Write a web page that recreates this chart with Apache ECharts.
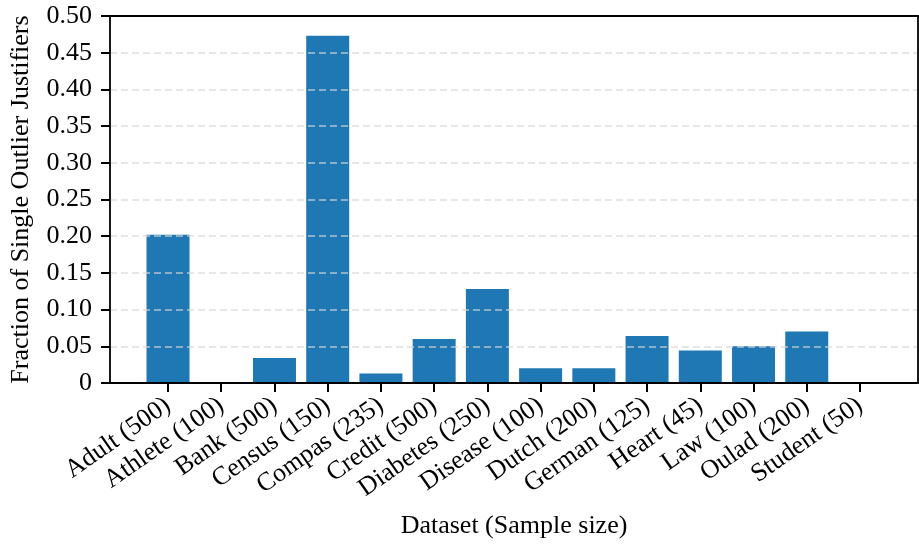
<!DOCTYPE html>
<html>
<head>
<meta charset="utf-8">
<script src="https://cdn.jsdelivr.net/npm/echarts@6/dist/echarts.min.js"></script>
<style>
  html, body { margin: 0; padding: 0; background: #fff; }
  #chart { width: 919px; height: 546px; }
</style>
</head>
<body>
<div id="chart"></div>
<script>
// Datasets with their sample sizes, and the share of single-outlier justifiers
const datasets = ['Adult', 'Athlete', 'Bank', 'Census', 'Compas', 'Credit', 'Diabetes',
                  'Disease', 'Dutch', 'German', 'Heart', 'Law', 'Oulad', 'Student'];
const sampleSizes = [500, 100, 500, 150, 235, 500, 250, 100, 200, 125, 45, 100, 200, 50];
const fractions = [0.202, 0, 0.034, 0.473, 0.0128, 0.060, 0.128, 0.020, 0.020, 0.064,
                   0.0444, 0.050, 0.070, 0];
const yTicks = [0, 0.05, 0.10, 0.15, 0.20, 0.25, 0.30, 0.35, 0.40, 0.45, 0.50];

const categoryLabels = datasets.map((d, i) => `${d} (${sampleSizes[i]})`);
const positions = datasets.map((_, i) => i);

// Bars occupy 0.8 of each slot; 5% padding on each side of the data span
const n = datasets.length;
const half = 0.4;
const span = (n - 1) + 2 * half;
const xMin = -half - 0.05 * span;
const xMax = (n - 1) + half + 0.05 * span;

const FONT = "'Liberation Serif', 'DejaVu Serif', serif";
const FS = 26;
const FRAME = { show: true, onZero: false, lineStyle: { color: '#000', width: 1.8 } };

const chart = echarts.init(document.getElementById('chart'), null, { renderer: 'canvas' });

chart.setOption({
  backgroundColor: '#ffffff',
  animation: false,
  grid: { left: 109, right: 1, top: 16, bottom: 163, containLabel: false },
  xAxis: [
    {
      type: 'value',
      min: xMin,
      max: xMax,
      z: 6,
      name: 'Dataset (Sample size)',
      nameLocation: 'middle',
      nameGap: 130,
      nameTextStyle: { fontFamily: FONT, fontSize: FS, color: '#000' },
      axisLine: FRAME,
      axisTick: {
        show: true, length: 9, inside: false,
        customValues: positions,
        lineStyle: { color: '#000', width: 2 }
      },
      axisLabel: {
        show: true,
        customValues: positions,
        rotate: 35,
        margin: 20,
        fontFamily: FONT, fontSize: FS, color: '#000',
        formatter: v => categoryLabels[Math.round(v)] || ''
      },
      splitLine: { show: false }
    },
    {
      type: 'value',
      position: 'top',
      min: xMin,
      max: xMax,
      z: 6,
      axisLine: FRAME,
      axisTick: { show: false },
      axisLabel: { show: false },
      splitLine: { show: false }
    }
  ],
  yAxis: [
    {
      type: 'value',
      min: 0,
      max: 0.5,
      interval: 0.05,
      z: 5,
      name: 'Fraction of Single Outlier Justifiers',
      nameLocation: 'middle',
      nameGap: 76,
      nameTextStyle: { fontFamily: FONT, fontSize: FS, color: '#000' },
      axisLine: FRAME,
      axisTick: { show: true, length: 9, inside: false, lineStyle: { color: '#000', width: 2 } },
      axisLabel: {
        margin: 18,
        fontFamily: FONT, fontSize: FS, color: '#000',
        formatter: v => {
          const t = yTicks.find(x => Math.abs(x - v) < 1e-9);
          const val = t === undefined ? v : t;
          return val === 0 ? '0' : val.toFixed(2);
        }
      },
      splitLine: {
        show: true,
        lineStyle: { color: 'rgba(215,215,215,0.6)', width: 2, type: [7, 4] }
      }
    },
    {
      type: 'value',
      position: 'right',
      min: 0,
      max: 0.5,
      z: 6,
      axisLine: FRAME,
      axisTick: { show: false },
      axisLabel: { show: false },
      splitLine: { show: false }
    }
  ],
  series: [
    {
      type: 'bar',
      xAxisIndex: 0,
      yAxisIndex: 0,
      z: 2,
      barWidth: 43,
      itemStyle: { color: '#1f77b4' },
      data: fractions.map((v, i) => [positions[i], v])
    }
  ]
});
</script>
</body>
</html>
